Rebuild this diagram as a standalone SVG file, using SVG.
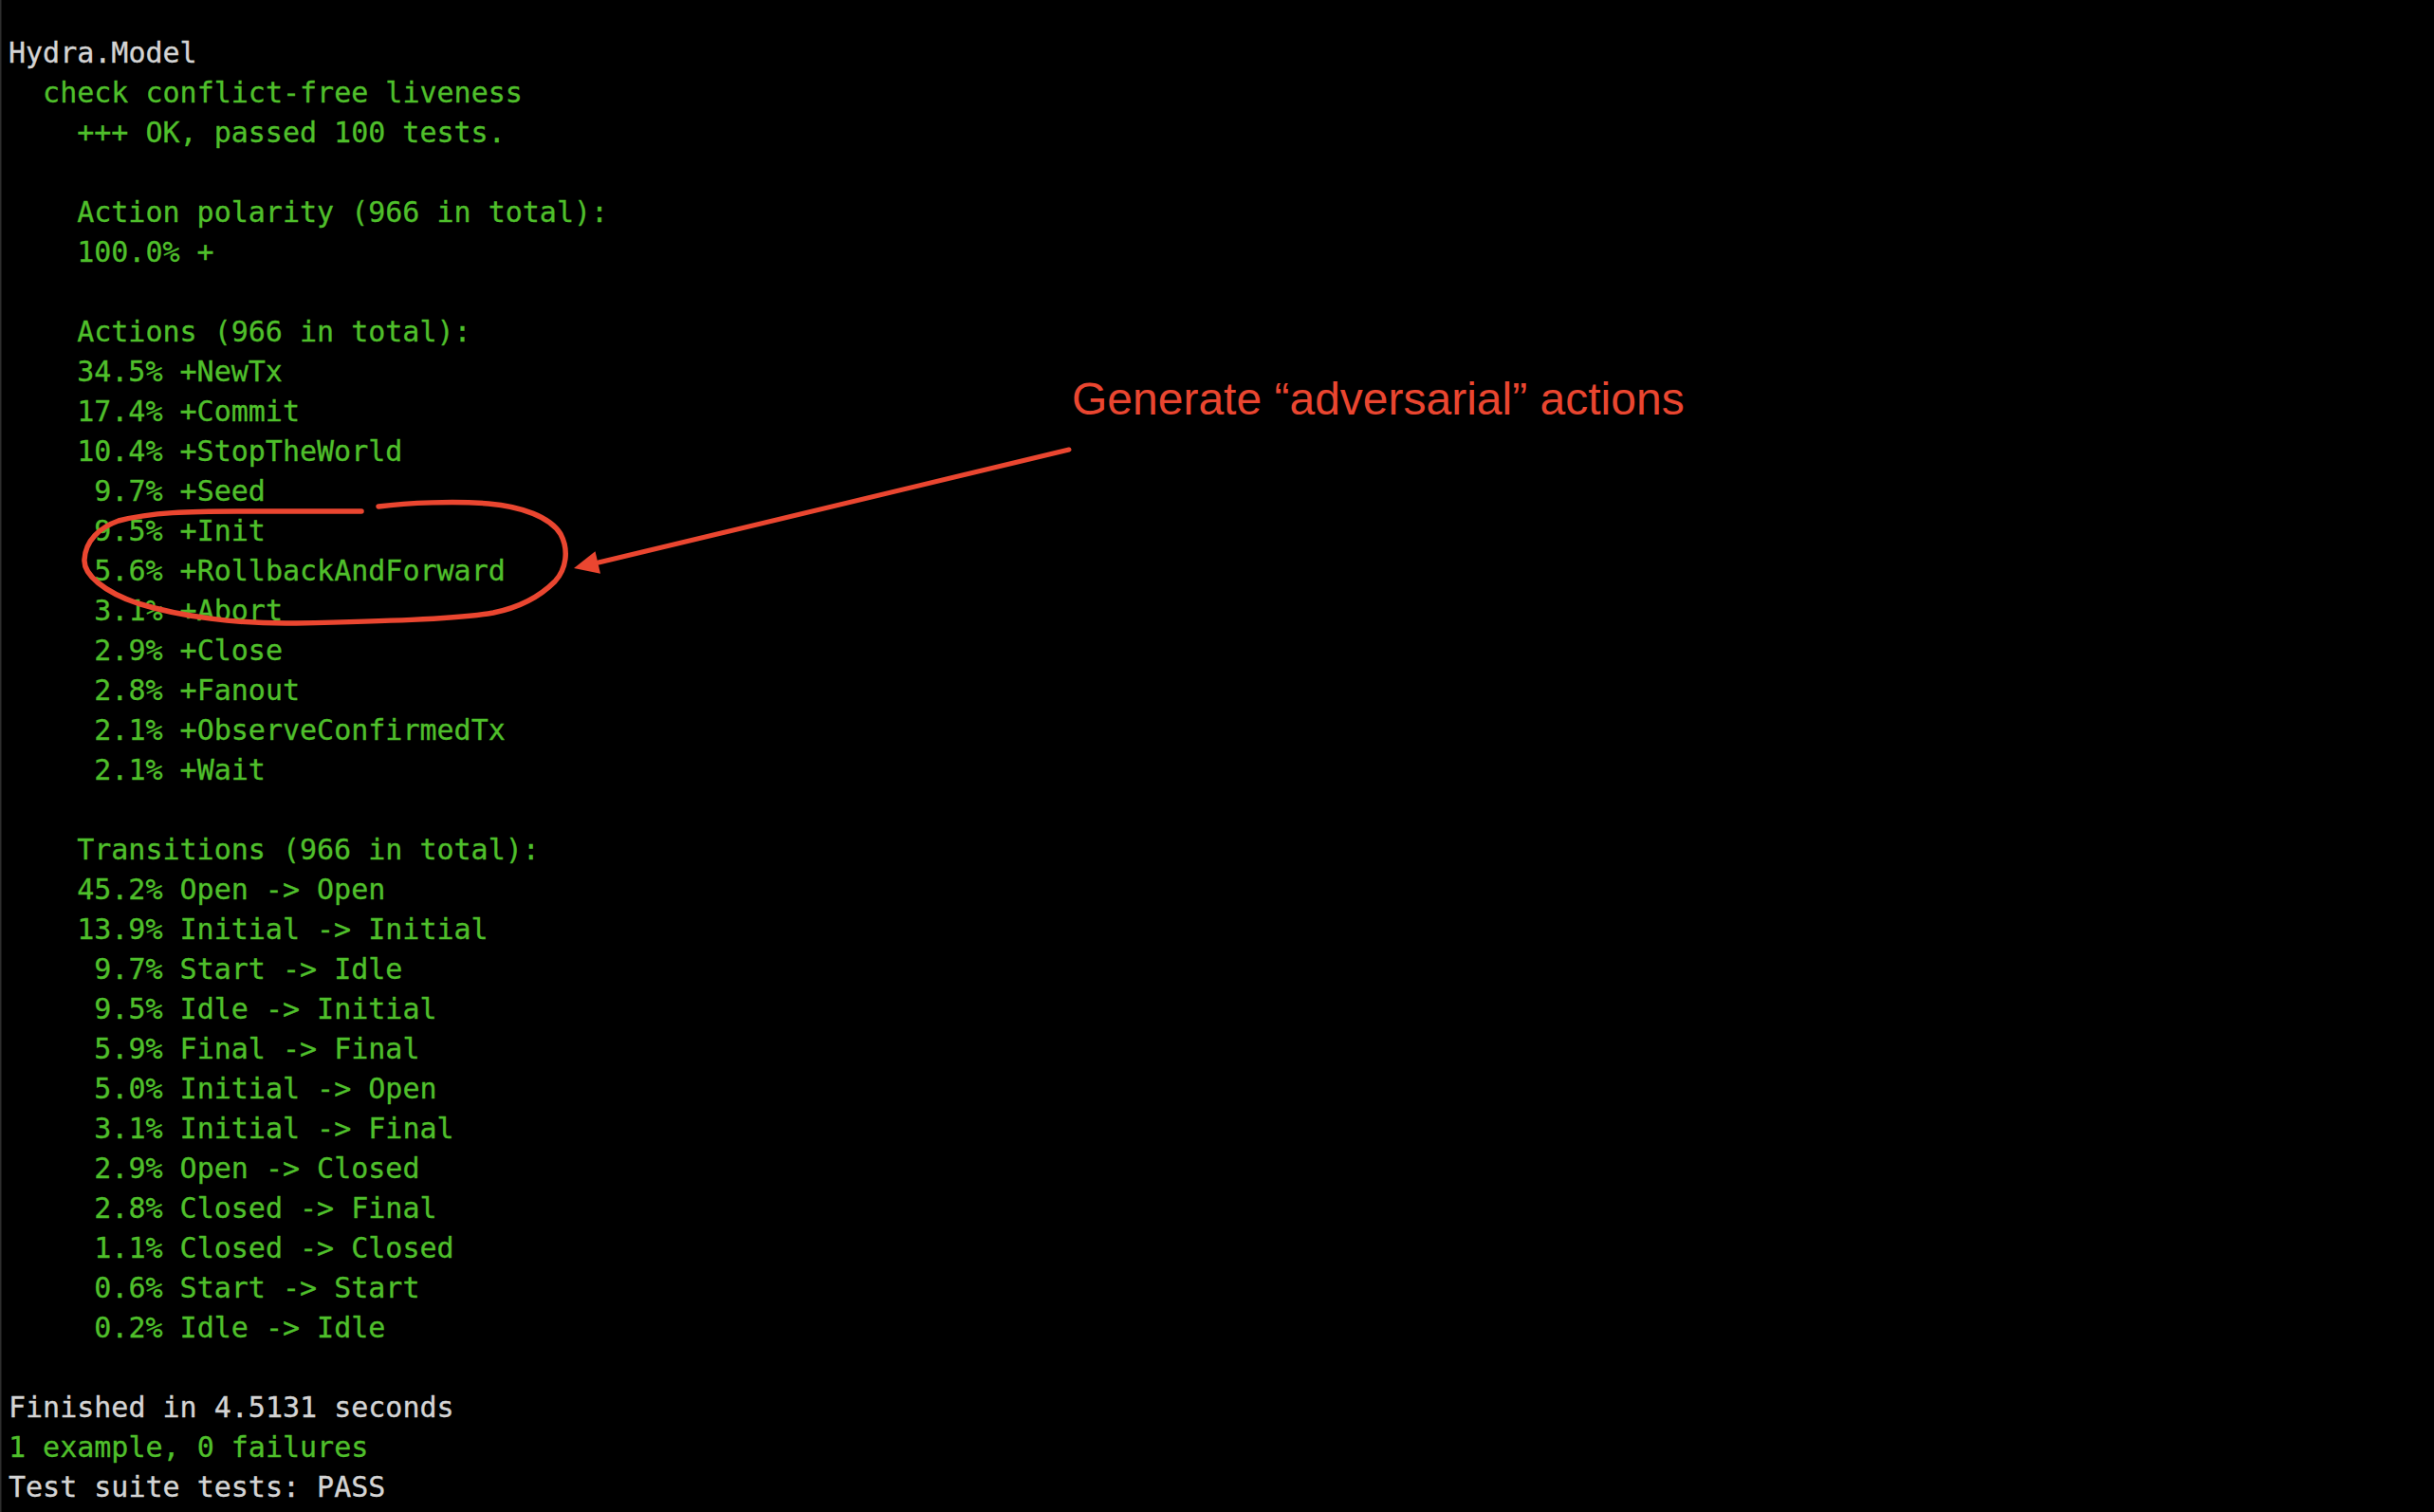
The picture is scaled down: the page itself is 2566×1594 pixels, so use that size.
<svg xmlns="http://www.w3.org/2000/svg" width="2566" height="1594" viewBox="0 0 2566 1594">
<style>
.t{font-family:"DejaVu Sans Mono","Liberation Mono",monospace;font-size:30px;stroke-width:0.35px}
.w{fill:#d4d4d4;stroke:#d4d4d4}
.g{fill:#4fbf2b;stroke:#4fbf2b}
.note{font-family:"Liberation Sans",Arial,sans-serif;font-size:48px;fill:#ea4630}
.red{fill:none;stroke:#ea4630;stroke-linecap:round;stroke-linejoin:round}
</style>
<rect x="0" y="0" width="2566" height="1594" fill="#000"/>
<rect x="0" y="0" width="1.5" height="1594" fill="#2e2e2e"/>
<g id="terminal" class="t">
<text class="w" x="9" y="66">Hydra.Model</text>
<text class="g" x="45.1" y="108">check conflict-free liveness</text>
<text class="g" x="81.2" y="150">+++ OK, passed 100 tests.</text>
<text class="g" x="81.2" y="234">Action polarity (966 in total):</text>
<text class="g" x="81.2" y="276">100.0% +</text>
<text class="g" x="81.2" y="360">Actions (966 in total):</text>
<text class="g" x="81.2" y="402">34.5% +NewTx</text>
<text class="g" x="81.2" y="444">17.4% +Commit</text>
<text class="g" x="81.2" y="486">10.4% +StopTheWorld</text>
<text class="g" x="99.3" y="528">9.7% +Seed</text>
<text class="g" x="99.3" y="570">9.5% +Init</text>
<text class="g" x="99.3" y="612">5.6% +RollbackAndForward</text>
<text class="g" x="99.3" y="654">3.1% +Abort</text>
<text class="g" x="99.3" y="696">2.9% +Close</text>
<text class="g" x="99.3" y="738">2.8% +Fanout</text>
<text class="g" x="99.3" y="780">2.1% +ObserveConfirmedTx</text>
<text class="g" x="99.3" y="822">2.1% +Wait</text>
<text class="g" x="81.2" y="906">Transitions (966 in total):</text>
<text class="g" x="81.2" y="948">45.2% Open -&gt; Open</text>
<text class="g" x="81.2" y="990">13.9% Initial -&gt; Initial</text>
<text class="g" x="99.3" y="1032">9.7% Start -&gt; Idle</text>
<text class="g" x="99.3" y="1074">9.5% Idle -&gt; Initial</text>
<text class="g" x="99.3" y="1116">5.9% Final -&gt; Final</text>
<text class="g" x="99.3" y="1158">5.0% Initial -&gt; Open</text>
<text class="g" x="99.3" y="1200">3.1% Initial -&gt; Final</text>
<text class="g" x="99.3" y="1242">2.9% Open -&gt; Closed</text>
<text class="g" x="99.3" y="1284">2.8% Closed -&gt; Final</text>
<text class="g" x="99.3" y="1326">1.1% Closed -&gt; Closed</text>
<text class="g" x="99.3" y="1368">0.6% Start -&gt; Start</text>
<text class="g" x="99.3" y="1410">0.2% Idle -&gt; Idle</text>
<text class="w" x="9" y="1494">Finished in 4.5131 seconds</text>
<text class="g" x="9" y="1536">1 example, 0 failures</text>
<text class="w" x="9" y="1578">Test suite tests: PASS</text>
</g>
<g id="highlight">
<path class="red" stroke-width="5.5" d="M399,534 C430,530 480,528 515,531 C550,534 580,545 591,563 C600,580 597,600 585,613 C570,628 550,640 520,646 C480,653 400,655 312,657 C250,658 190,650 145,636 C110,624 88,606 89,590 C90,570 105,556 125,549 C160,540 200,539 250,539 L381,539"/>
</g>
<g id="annotation">
<text class="note" x="1130" y="437">Generate “adversarial” actions</text>
</g>
<g id="connectors">
<line class="red" x1="1127" y1="474" x2="631" y2="593" stroke-width="5" stroke-linecap="butt"/>
<path d="M605,599 L627.5,581.3 L633,604.7 Z" fill="#ea4630"/>
</g>
</svg>
